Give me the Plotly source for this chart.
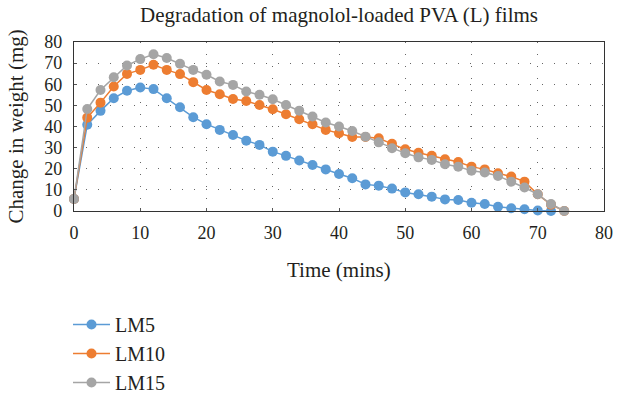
import plotly.graph_objects as go

time_lm5 = list(range(0, 73, 2))
time_all = list(range(0, 75, 2))

lm5 = [5.7, 40.8, 47.4, 53.4, 56.9, 58.5, 57.7, 53.4, 49.1, 44.4, 41.1, 38.4, 36.0,
       33.3, 31.3, 28.1, 26.1, 23.9, 21.8, 19.7, 17.5, 15.5, 12.6, 12.0, 10.6, 8.8,
       7.9, 6.8, 5.5, 5.2, 3.9, 3.3, 2.0, 1.3, 0.8, 0.2, 0.0]
lm10 = [5.7, 44.2, 51.3, 58.9, 64.9, 66.8, 69.2, 66.8, 64.8, 61.0, 57.3, 55.3, 53.0,
        52.1, 50.2, 48.2, 45.8, 43.4, 41.1, 38.4, 36.8, 35.0, 35.0, 34.4, 31.8, 29.2,
        27.6, 26.1, 24.5, 23.2, 21.0, 19.7, 17.9, 16.3, 13.9, 7.9, 3.0, 0.0]
lm15 = [5.7, 48.3, 57.3, 63.3, 68.9, 71.9, 74.2, 72.4, 69.7, 66.8, 64.5, 61.3, 59.7,
        56.6, 55.0, 52.9, 50.2, 47.5, 44.7, 41.9, 40.0, 37.9, 35.2, 32.5, 29.7, 27.3,
        25.4, 24.2, 22.1, 21.0, 19.1, 18.2, 16.6, 13.9, 11.1, 7.9, 3.3, 0.0]

series = [("LM5", time_lm5, lm5, "#5B9BD5"),
          ("LM10", time_all, lm10, "#ED7D31"),
          ("LM15", time_all, lm15, "#A5A5A5")]

title_text = "Degradation of magnolol-loaded PVA (L) films"
x_title = "Time (mins)"
y_title = "Change in weight (mg)"

FONT = "Liberation Serif"
TXT = "#231f20"

fig = go.Figure()
for name, x, y, c in series:
    fig.add_trace(go.Scatter(
        x=x, y=y, name=name, mode="lines+markers",
        line=dict(color=c, width=1.5),
        marker=dict(color=c, size=10),
        cliponaxis=False,
    ))

axis_common = dict(
    range=[0, 80], dtick=10, tick0=0, automargin=False,
    showgrid=True, gridcolor="#666666", gridwidth=1, griddash="1px,11px",
    zeroline=False, showline=True, linecolor="#333333", linewidth=1.2, mirror=True,
    ticks="inside", ticklen=3, tickcolor="#555555",
    tickfont=dict(family=FONT, size=18, color=TXT),
)

fig.update_layout(
    width=617, height=400,
    margin=dict(l=74, r=13, t=42, b=189, autoexpand=False),
    paper_bgcolor="white", plot_bgcolor="white",
    font=dict(family=FONT, color=TXT),
    title=dict(text=title_text,
               x=0.5, xref="paper", xanchor="center",
               y=1 - 15 / 400, yanchor="middle",
               font=dict(family=FONT, size=21, color=TXT)),
    xaxis=dict(axis_common, ticklabelstandoff=5),
    yaxis=dict(axis_common, ticklabelstandoff=7),
    annotations=[
        dict(text=x_title, xref="paper", yref="paper", x=0.5, y=-(270 - 211) / 169,
             xanchor="center", yanchor="middle", showarrow=False,
             font=dict(family=FONT, size=21, color=TXT)),
        dict(text=y_title, xref="paper", yref="paper", x=(15 - 74) / 530, y=0.5,
             xanchor="center", yanchor="middle", showarrow=False, textangle=-90,
             font=dict(family=FONT, size=21, color=TXT)),
    ],
    legend=dict(xref="container", yref="container",
                x=68 / 617, xanchor="left", y=1 - 305 / 400, yanchor="top",
                orientation="v", itemwidth=37,
                font=dict(family=FONT, size=20, color=TXT),
                bgcolor="rgba(0,0,0,0)"),
)

fig.write_html("out.html", config={"displayModeBar": False},
               post_script="document.body.style.margin='0';document.body.style.overflow='hidden';")
